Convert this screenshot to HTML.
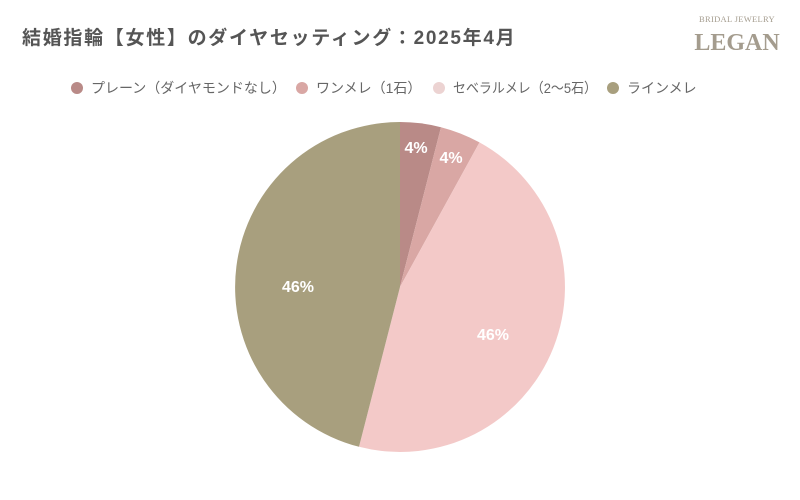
<!DOCTYPE html>
<html><head><meta charset="utf-8"><style>
body{margin:0;background:#fff;}
svg{display:block;font-family:"Liberation Sans","Noto Sans CJK JP",sans-serif;}
</style></head><body>
<svg width="800" height="500" viewBox="0 0 800 500" xmlns="http://www.w3.org/2000/svg">
<rect width="800" height="500" fill="#fff"/>
<text x="22" y="44" font-size="19" font-weight="bold" fill="#555" letter-spacing="1.7">結婚指輪【女性】のダイヤセッティング：2025年4月</text>
<text x="737" y="22" font-size="8.5" fill="#a49c8e" text-anchor="middle" font-family="Liberation Serif,serif" letter-spacing="0.3">BRIDAL JEWELRY</text>
<text x="737" y="50" font-size="24" fill="#a49c8e" text-anchor="middle" font-family="Liberation Serif,serif" font-weight="bold">LEGAN</text>
<g font-size="14" fill="#666">
<circle cx="77" cy="88" r="6" fill="#b98a87"/><text x="91" y="93">プレーン（ダイヤモンドなし）</text>
<circle cx="302" cy="88" r="6" fill="#d9a7a4"/><text x="316" y="93">ワンメレ（1石）</text>
<circle cx="439" cy="88" r="6" fill="#ecd3d2"/><text x="453" y="93" textLength="144" lengthAdjust="spacingAndGlyphs">セベラルメレ（2〜5石）</text>
<circle cx="613" cy="88" r="6" fill="#a89f7e"/><text x="627" y="93">ラインメレ</text>
</g>
<path d="M400,287 L400,122 A165,165 0 0 1 441.0,127.2 Z" fill="#b98a87"/>
<path d="M400,287 L441.0,127.2 A165,165 0 0 1 479.5,142.4 Z" fill="#d9a7a4"/>
<path d="M400,287 L479.5,142.4 A165,165 0 0 1 359.0,446.8 Z" fill="#f3c9c8"/>
<path d="M400,287 L359.0,446.8 A165,165 0 0 1 400,122 Z" fill="#a89f7e"/>
<g font-size="16" font-weight="bold" fill="#fff" text-anchor="middle">
<text x="416" y="153">4%</text>
<text x="451" y="163">4%</text>
<text x="493" y="340">46%</text>
<text x="298" y="292">46%</text>
</g>
</svg>
</body></html>
